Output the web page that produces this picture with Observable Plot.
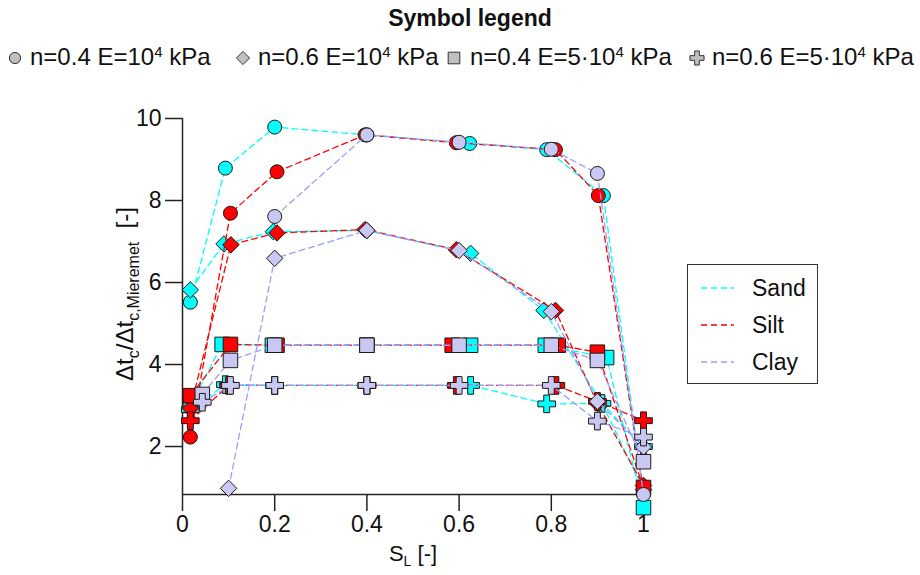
<!DOCTYPE html>
<html>
<head>
<meta charset="utf-8">
<script src="https://cdn.jsdelivr.net/npm/d3@7"></script>
<script src="https://cdn.jsdelivr.net/npm/@observablehq/plot@0.6"></script>
<style>
  body { margin: 0; background: #fff; font-family: Arial, "Liberation Sans", sans-serif; }
  #wrap { position: relative; width: 920px; height: 575px; overflow: hidden; }
  #title { position: absolute; left: 0; width: 940px; top: 5px; text-align: center; font-weight: bold; font-size: 23px; color: #111; }
  .sym { position: absolute; top: 49px; }
  .lab { position: absolute; top: 43px; font-size: 24px; white-space: nowrap; color: #111; }
  .lab sup { font-size: 15px; vertical-align: 0; position: relative; top: -8px; }
  #chart { position: absolute; left: 0; top: 80px; }
  #soil { position: absolute; left: 687px; top: 264px; width: 131px; height: 120px; border: 1px solid #333; box-sizing: border-box; }
</style>
</head>
<body>
<div id="wrap">
  <div id="title">Symbol legend</div>
  <div id="symrow"></div>
  <div id="chart"></div>
  <div id="soil"></div>
</div>
<script>
// S_L positions and normalised crossing-time ratios, one list per soil / parameter set
const sandCircle  = [[0.017,5.52],[0.093,8.79],[0.2,9.79],[0.4,9.6],[0.623,9.39],[0.79,9.24],[0.913,8.12],[1.0,0.85]];
const sandDiamond = [[0.017,5.82],[0.09,6.94],[0.197,7.24],[0.4,7.27],[0.625,6.71],[0.784,5.32],[0.91,3.05],[1.0,0.95]];
const sandSquare  = [[0.017,3.0],[0.086,4.49],[0.195,4.47],[0.4,4.47],[0.625,4.47],[0.787,4.47],[0.92,4.17],[1.0,0.51]];
const sandPlus    = [[0.017,2.9],[0.093,3.51],[0.2,3.49],[0.4,3.49],[0.625,3.49],[0.79,3.04],[0.91,3.05],[1.0,2.0]];

const siltCircle  = [[0.017,2.23],[0.104,7.69],[0.205,8.7],[0.396,9.6],[0.594,9.41],[0.809,9.24],[0.902,8.12],[1.0,0.9]];
const siltDiamond = [[0.017,2.93],[0.105,6.92],[0.205,7.21],[0.396,7.29],[0.594,6.8],[0.809,5.32],[0.9,3.05],[1.0,1.05]];
const siltSquare  = [[0.017,3.24],[0.104,4.49],[0.205,4.47],[0.4,4.47],[0.585,4.47],[0.815,4.47],[0.9,4.3],[1.0,1.0]];
const siltPlus    = [[0.017,2.63],[0.1,3.49],[0.2,3.49],[0.4,3.49],[0.594,3.49],[0.81,3.49],[0.9,3.1],[1.0,2.63]];

const clayCircle  = [[0.2,7.61],[0.4,9.6],[0.6,9.42],[0.8,9.25],[0.9,8.66],[1.0,0.83]];
const clayDiamond = [[0.1,0.98],[0.2,6.59],[0.4,7.27],[0.6,6.78],[0.8,5.29],[0.9,3.1],[1.0,1.99]];
const claySquare  = [[0.043,3.27],[0.104,4.1],[0.2,4.47],[0.4,4.47],[0.6,4.47],[0.8,4.47],[0.9,4.1],[1.0,1.63]];
const clayPlus    = [[0.043,3.08],[0.104,3.49],[0.2,3.49],[0.4,3.49],[0.6,3.49],[0.8,3.49],[0.9,2.62],[1.0,2.23]];

const soilNames = ["Sand", "Silt", "Clay"];
const soilLine  = ["#00ffff", "#ff0000", "#9c9cff"];
const soilFill  = ["#00ffff", "#ff0000", "#c8c8f2"];
const caseLabels = [
  "n=0.4 E=10<sup>4</sup> kPa",
  "n=0.6 E=10<sup>4</sup> kPa",
  "n=0.4 E=5·10<sup>4</sup> kPa",
  "n=0.6 E=5·10<sup>4</sup> kPa"
];
const xTicks = [0, 0.2, 0.4, 0.6, 0.8, 1];
const yTicks = [2, 4, 6, 8, 10];

// marker shape and radius for each parameter set
const caseSymbol = ["circle", "diamond2", "square", "cross"];
const caseRadius = [7.0, 7.4, 8.2, 7.4];

const seriesBySoil = [
  [sandCircle, sandDiamond, sandSquare, sandPlus],
  [siltCircle, siltDiamond, siltSquare, siltPlus],
  [clayCircle, clayDiamond, claySquare, clayPlus]
];

const marks = [];
seriesBySoil.forEach((group, s) => {
  group.forEach((pts, c) => {
    const rows = pts.map(([SL, ratio]) => ({SL, ratio}));
    marks.push(Plot.line(rows, {x: "SL", y: "ratio", stroke: soilLine[s], strokeWidth: 1.3, strokeDasharray: "6,4"}));
    marks.push(Plot.dot(rows, {x: "SL", y: "ratio", symbol: () => caseSymbol[c], r: caseRadius[c], fill: soilFill[s], stroke: "#1a1a1a", strokeWidth: 1}));
  });
});

const plot = Plot.plot({
  width: 920,
  height: 495,
  marginLeft: 182,
  marginRight: 277,
  marginTop: 38,
  marginBottom: 81,
  style: {fontFamily: "Arial, 'Liberation Sans', sans-serif", fontSize: "23px", color: "#111", background: "transparent"},
  x: {domain: [0, 1]},
  y: {domain: [0.83, 10]},
  symbol: {type: "identity"},
  marks: [
    Plot.axisX({ticks: xTicks, tickSize: 17, tickPadding: 4, tickFormat: d => String(d), label: null, fontSize: 23, stroke: "#222", strokeWidth: 1.5}),
    Plot.axisY({ticks: yTicks, tickSize: 17, tickPadding: 4, label: null, fontSize: 23, stroke: "#222", strokeWidth: 1.5}),
    Plot.ruleX([0], {stroke: "#222", strokeWidth: 1.5}),
    Plot.ruleY([0.83], {stroke: "#222", strokeWidth: 1.5}),
    ...marks
  ]
});

// axis titles with subscripts
const svg = d3.select(plot);
const yl = svg.append("text")
  .attr("transform", "translate(133,214) rotate(-90)")
  .attr("text-anchor", "middle")
  .attr("font-size", 24)
  .attr("fill", "#111");
yl.append("tspan").text("Δt");
yl.append("tspan").attr("font-size", 16).attr("dy", 6).text("c");
yl.append("tspan").attr("dy", -6).text("/Δt");
yl.append("tspan").attr("font-size", 16).attr("dy", 6).text("c,Mieremet");
yl.append("tspan").attr("dy", -6).text("\u00a0\u00a0[-]");

const xl = svg.append("text")
  .attr("x", 413).attr("y", 481)
  .attr("text-anchor", "middle")
  .attr("font-size", 22)
  .attr("fill", "#111");
xl.append("tspan").text("S");
xl.append("tspan").attr("font-size", 14).attr("dy", 5).text("L");
xl.append("tspan").attr("dy", -5).text(" [-]");

document.getElementById("chart").appendChild(plot);

// symbol legend row
const symX = [15, 243, 454, 697];
const labX = [30, 258, 470, 712];
const symRow = document.getElementById("symrow");
caseSymbol.forEach((name, i) => {
  const shape = {circle: d3.symbolCircle, diamond2: d3.symbolDiamond2, square: d3.symbolSquare, cross: d3.symbolCross}[name];
  const r = caseRadius[i] * 0.8;
  const div = document.createElement("div");
  div.className = "sym";
  div.style.left = (symX[i] - 9) + "px";
  div.innerHTML = `<svg width="18" height="18"><path transform="translate(9,9)" d="${d3.symbol(shape, Math.PI * r * r)()}" fill="#c0c0c0" stroke="#333" stroke-width="1"/></svg>`;
  symRow.appendChild(div);
  const lab = document.createElement("div");
  lab.className = "lab";
  lab.style.left = labX[i] + "px";
  lab.innerHTML = caseLabels[i];
  symRow.appendChild(lab);
});

// soil type legend box
const soilBox = d3.select("#soil").append("svg").attr("width", 129).attr("height", 118);
soilNames.forEach((name, i) => {
  const y = 23 + i * 37;
  soilBox.append("line").attr("x1", 13).attr("x2", 46).attr("y1", y).attr("y2", y)
    .attr("stroke", soilLine[i]).attr("stroke-width", 1.3).attr("stroke-dasharray", "6,4");
  soilBox.append("text").attr("x", 64).attr("y", y + 8).attr("font-size", 23).attr("fill", "#111").text(name);
});
</script>
</body>
</html>
